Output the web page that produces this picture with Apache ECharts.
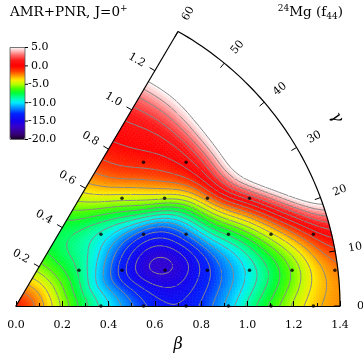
<!DOCTYPE html>
<html>
<head>
<meta charset="utf-8">
<script src="https://cdn.jsdelivr.net/npm/echarts@6/dist/echarts.min.js"></script>
<style>
  html, body { margin: 0; padding: 0; background: #fff; }
  #main { width: 363px; height: 358px; }
</style>
</head>
<body>
<div id="main"></div>
<script>
// beta / gamma grid of the energy surface
const betas = [0, 0.1, 0.2, 0.3, 0.4, 0.5, 0.6, 0.7, 0.8, 0.9, 1.0, 1.1, 1.2, 1.3, 1.4];
const gammas = [0, 7.5, 15, 22.5, 30, 37.5, 45, 52.5, 60];

// energy (MeV) along beta, one list per gamma
const eG00 = [-0.5, -2.3, -5.3, -7.8, -9.8, -11.8, -13.4, -14.0, -12.8, -10.8, -8.4, -6.4, -4.3, -2.8, -2.4];
const eG07 = [-0.5, -2.3, -5.4, -8.0, -10.4, -12.6, -14.8, -15.3, -13.8, -12.2, -10.5, -8.8, -6.9, -4.2, -2.5];
const eG15 = [-0.5, -2.4, -5.5, -8.3, -11.3, -14.5, -16.8, -16.8, -15.0, -11.8, -9.6, -6.6, -3.8, -1.0, 1.5];
const eG22 = [-0.5, -2.4, -5.6, -8.0, -10.8, -13.8, -15.9, -15.5, -12.5, -8.0, -5.0, -1.8, 2.5, 6.5, 9.5];
const eG30 = [-0.5, -2.5, -5.6, -8.0, -9.8, -12.0, -13.2, -13.0, -9.8, -5.0, 0.5, 5.0, 8.5, 11.0, 13.0];
const eG37 = [-0.5, -2.5, -5.7, -7.9, -9.0, -10.2, -9.5, -6.5, -3.5, -1.2, 0.8, 4.8, 8.0, 11.0, 13.0];
const eG45 = [-0.5, -2.6, -5.7, -7.9, -8.8, -8.6, -6.6, -3.6, -1.5, -0.3, 1.0, 4.5, 7.5, 10.5, 13.0];
const eG52 = [-0.5, -2.6, -5.8, -7.8, -8.2, -7.0, -4.2, -1.8, -0.5, 0.3, 1.2, 3.8, 6.5, 9.5, 12.0];
const eG60 = [-0.5, -2.7, -5.8, -7.6, -7.8, -5.6, -3.3, -1.5, -0.3, 0.6, 1.6, 3.8, 6.5, 9.0, 12.0];
const energy = [eG00, eG07, eG15, eG22, eG30, eG37, eG45, eG52, eG60];

// mesh points of the calculation (x = beta cos g, y = beta sin g)
const meshX = [0.272, 0.458, 0.644, 0.827, 1.009, 1.193, 1.378,
               0.367, 0.551, 0.735, 0.918, 1.102, 1.285,
               0.458, 0.642, 0.827, 1.009,
               0.551, 0.735,
               0.367, 0.551, 0.735, 0.918, 1.102, 1.285];
const meshY = [0.158, 0.158, 0.158, 0.158, 0.158, 0.158, 0.158,
               0.317, 0.317, 0.317, 0.317, 0.317, 0.317,
               0.476, 0.476, 0.476, 0.476,
               0.635, 0.635,
               0, 0, 0, 0, 0, 0];

const edgeTicks = [0.2, 0.4, 0.6, 0.8, 1.0, 1.2];
const gammaTicks = [0, 10, 20, 30, 40, 50, 60];
const colorTicks = [5, 0, -5, -10, -15, -20];
const contourLevels = [-19, -18, -17, -16, -15, -14, -13, -12, -11, -10, -9, -8, -7,
                       -6, -5, -4, -3, -2, -1, 0, 1, 2, 3, 4, 5];

const FONT = 'DejaVu Serif';
const BMAX = 1.4;
const E_MIN = -20, E_MAX = 5;

// colour map (red 0, white above 5, purple at -20)
const cmapStops = [
  [-20, [25, 0, 35]], [-18.5, [55, 0, 120]], [-16.6, [55, 0, 200]], [-15, [20, 0, 235]],
  [-13, [0, 35, 255]], [-11.6, [0, 130, 255]], [-10, [0, 235, 255]], [-8.9, [0, 255, 180]],
  [-7.3, [0, 255, 50]], [-6.2, [70, 255, 0]], [-5, [180, 255, 0]], [-3.8, [255, 235, 0]],
  [-2.5, [255, 140, 0]], [-1.4, [255, 60, 0]], [0, [255, 0, 0]], [1.5, [255, 25, 25]],
  [3, [255, 110, 110]], [4.2, [255, 200, 200]], [5, [255, 248, 248]]
];
function colorAt(v) {
  if (v >= E_MAX) return '#ffffff';
  if (v <= cmapStops[0][0]) v = cmapStops[0][0];
  for (let k = 0; k < cmapStops.length - 1; k++) {
    const a = cmapStops[k], b = cmapStops[k + 1];
    if (v <= b[0]) {
      const t = (v - a[0]) / (b[0] - a[0]);
      const c = a[1].map((x, n) => Math.round(x + (b[1][n] - x) * t));
      return 'rgb(' + c.join(',') + ')';
    }
  }
  return '#ffffff';
}
const barColors = [];
for (let v = E_MIN; v <= E_MAX; v += 0.5) barColors.push(colorAt(Math.min(v, 4.99)));

// smooth (cubic B-spline) reading of the grid between nodes
function bs(p0, p1, p2, p3, t) {
  const t2 = t * t, t3 = t2 * t, s = 1 - t;
  return (s * s * s * p0 + (3 * t3 - 6 * t2 + 4) * p1 + (-3 * t3 + 3 * t2 + 3 * t + 1) * p2 + t3 * p3) / 6;
}
function clampI(k, n) { return k < 0 ? 0 : (k > n - 1 ? n - 1 : k); }
function field(b, g) {
  const nb = betas.length, ng = gammas.length;
  const fb = (b - betas[0]) / (betas[1] - betas[0]);
  const fg = (g - gammas[0]) / (gammas[1] - gammas[0]);
  const i = Math.min(Math.floor(fb), nb - 2), j = Math.min(Math.floor(fg), ng - 2);
  const t = fb - i, u = fg - j;
  const E = (jj, ii) => energy[clampI(jj, ng)][clampI(ii, nb)];
  const col = [];
  for (let dj = -1; dj <= 2; dj++) {
    col.push(bs(E(j + dj, i - 1), E(j + dj, i), E(j + dj, i + 1), E(j + dj, i + 2), t));
  }
  return bs(col[0], col[1], col[2], col[3], u);
}

function toXY(b, g) {
  const r = g * Math.PI / 180;
  return [b * Math.cos(r), b * Math.sin(r)];
}

const cells = [];
for (let j = 0; j < gammas.length - 1; j++) {
  for (let i = 0; i < betas.length - 1; i++) {
    cells.push([i, j, (energy[j][i] + energy[j][i + 1] + energy[j + 1][i] + energy[j + 1][i + 1]) / 4]);
  }
}

function seg(p, q) {
  return 'M' + p[0].toFixed(2) + ' ' + p[1].toFixed(2) + 'L' + q[0].toFixed(2) + ' ' + q[1].toFixed(2);
}

function renderCell(params, api) {
  const i = api.value(0), j = api.value(1);
  const b0 = betas[i], b1 = betas[i + 1], g0 = gammas[j], g1 = gammas[j + 1];
  const nB = 8, nG = Math.max(2, Math.ceil(b1 * 9));
  const vals = [], pts = [];
  for (let a = 0; a <= nB; a++) {
    const b = b0 + (b1 - b0) * a / nB;
    vals.push([]); pts.push([]);
    for (let c = 0; c <= nG; c++) {
      const g = g0 + (g1 - g0) * c / nG;
      vals[a].push(field(b, g));
      pts[a].push(api.coord(toXY(b, g)));
    }
  }
  const children = [];
  let d = '';
  for (let a = 0; a < nB; a++) {
    for (let c = 0; c < nG; c++) {
      const v = [vals[a][c], vals[a + 1][c], vals[a + 1][c + 1], vals[a][c + 1]];
      const p = [pts[a][c], pts[a + 1][c], pts[a + 1][c + 1], pts[a][c + 1]];
      const avg = (v[0] + v[1] + v[2] + v[3]) / 4;
      const col = colorAt(avg);
      children.push({
        type: 'polygon', silent: true,
        shape: { points: p },
        style: { fill: col, stroke: col, lineWidth: 0.6 }
      });
      const lo = Math.min(v[0], v[1], v[2], v[3]), hi = Math.max(v[0], v[1], v[2], v[3]);
      for (const L of contourLevels) {
        if (L <= lo || L > hi) continue;
        const cross = [];
        for (let e = 0; e < 4; e++) {
          const v1 = v[e], v2 = v[(e + 1) % 4];
          if ((v1 < L) !== (v2 < L)) {
            const t = (L - v1) / (v2 - v1);
            const p1 = p[e], p2 = p[(e + 1) % 4];
            cross.push([p1[0] + (p2[0] - p1[0]) * t, p1[1] + (p2[1] - p1[1]) * t]);
          }
        }
        if (cross.length === 2) {
          d += seg(cross[0], cross[1]);
        } else if (cross.length === 4) {
          if ((avg >= L) === (v[0] >= L)) {
            d += seg(cross[0], cross[1]) + seg(cross[2], cross[3]);
          } else {
            d += seg(cross[3], cross[0]) + seg(cross[1], cross[2]);
          }
        }
      }
    }
  }
  if (d) {
    children.push({
      type: 'path', silent: true,
      shape: { pathData: d },
      style: { fill: null, stroke: '#888888', lineWidth: 1 }
    });
  }
  return { type: 'group', children: children };
}

// outer arc and 60 degree edge
function renderFrame(params, api) {
  const arc = [];
  for (let g = 0; g <= 60; g += 1) arc.push(api.coord(toXY(BMAX, g)));
  const o = api.coord([0, 0]);
  return {
    type: 'group',
    children: [
      { type: 'polyline', shape: { points: arc }, style: { fill: null, stroke: '#000', lineWidth: 1.2 } },
      { type: 'line', shape: { x1: o[0], y1: o[1], x2: arc[arc.length - 1][0], y2: arc[arc.length - 1][1] },
        style: { stroke: '#000', lineWidth: 1.2 } }
    ]
  };
}

function centredText(str, x, y, rot, size, italic) {
  return {
    type: 'text', x: x, y: y, rotation: rot,
    style: { text: str, fontFamily: FONT, fontSize: size, fontStyle: italic ? 'italic' : 'normal',
      fill: '#000', align: 'center', verticalAlign: 'middle',
      textAlign: 'center', textVerticalAlign: 'middle' }
  };
}

function renderGammaTick(params, api) {
  const g = api.value(0);
  const r = g * Math.PI / 180;
  const p = api.coord(toXY(BMAX, g));
  const dx = Math.cos(r), dy = -Math.sin(r);
  return {
    type: 'group',
    children: [
      { type: 'line', shape: { x1: p[0], y1: p[1], x2: p[0] - 6 * dx, y2: p[1] - 6 * dy },
        style: { stroke: '#000', lineWidth: 1 } },
      centredText(String(g), p[0] + 20.5 * dx, p[1] + 20.5 * dy, r, 11, false)
    ]
  };
}

function renderEdgeTick(params, api) {
  const b = api.value(0);
  const p = api.coord(toXY(b, 60));
  const nx = Math.cos(150 * Math.PI / 180), ny = -Math.sin(150 * Math.PI / 180);
  return {
    type: 'group',
    children: [
      { type: 'line', shape: { x1: p[0], y1: p[1], x2: p[0] + 6 * nx, y2: p[1] + 6 * ny },
        style: { stroke: '#000', lineWidth: 1 } },
      centredText(b.toFixed(1), p[0] + 21 * nx, p[1] + 21 * ny, -Math.PI / 6, 11, false)
    ]
  };
}

function renderGammaName(params, api) {
  const p = api.coord(toXY(1.617, 31));
  return centredText('γ', p[0], p[1], (31 - 90) * Math.PI / 180, 16, true);
}

// colour bar ticks and labels
const CB_TOP = 47.5, CB_H = 92, CB_LEFT = 10, CB_W = 15;
const cbGraphics = [
  { type: 'rect', shape: { x: CB_LEFT, y: CB_TOP, width: CB_W, height: CB_H },
    style: { fill: null, stroke: '#555', lineWidth: 0.8 }, z: 20 }
];
colorTicks.forEach(v => {
  const y = CB_TOP + (E_MAX - v) / (E_MAX - E_MIN) * CB_H;
  cbGraphics.push({ type: 'line', shape: { x1: CB_LEFT + CB_W, y1: y, x2: CB_LEFT + CB_W + 3, y2: y },
    style: { stroke: '#000', lineWidth: 1 }, z: 20 });
  cbGraphics.push({ type: 'text', x: v < 0 ? 28 : 31, y: y,
    style: { text: v.toFixed(1), fontFamily: FONT, fontSize: 11, fill: '#000',
      align: 'left', verticalAlign: 'middle' }, z: 20 });
});

const chart = echarts.init(document.getElementById('main'));
chart.setOption({
  animation: false,
  backgroundColor: '#fff',
  grid: { left: 16, right: 23, top: 11.6, bottom: 45.5 },
  xAxis: {
    type: 'value', min: 0, max: 1.4, interval: 0.2, z: 10,
    name: 'β', nameLocation: 'middle', nameGap: 31,
    nameTextStyle: { fontFamily: FONT, fontStyle: 'italic', fontSize: 16, color: '#000' },
    axisLine: { lineStyle: { color: '#000', width: 1.2 } },
    axisTick: { inside: true, length: 5, lineStyle: { color: '#000' } },
    minorTick: { show: true, splitNumber: 2, length: 3, lineStyle: { color: '#000' } },
    axisLabel: { formatter: v => v.toFixed(1), fontFamily: FONT, fontSize: 11, color: '#000', margin: 14 },
    splitLine: { show: false }
  },
  yAxis: { type: 'value', min: 0, max: 1.3, show: false },
  visualMap: {
    type: 'continuous', min: E_MIN, max: E_MAX, seriesIndex: 0, dimension: 2,
    left: CB_LEFT, top: CB_TOP, itemWidth: CB_W, itemHeight: CB_H, padding: 0,
    calculable: false, hoverLink: false, inRange: { color: barColors }
  },
  graphic: [
    { type: 'text', left: 10, top: 4,
      style: { rich: {
          m: { fontFamily: FONT, fontSize: 13.5, lineHeight: 17, verticalAlign: 'middle', fill: '#000' },
          s: { fontFamily: FONT, fontSize: 9, lineHeight: 17, verticalAlign: 'top', fill: '#000' }
        }, text: '{m|AMR+PNR, J=0}{s|+}' } },
    { type: 'text', right: 20, top: 4,
      style: { rich: {
          m: { fontFamily: FONT, fontSize: 13.5, lineHeight: 17, verticalAlign: 'middle', fill: '#000' },
          s: { fontFamily: FONT, fontSize: 9, lineHeight: 17, verticalAlign: 'top', fill: '#000' },
          b: { fontFamily: FONT, fontSize: 9, lineHeight: 17, verticalAlign: 'bottom', fill: '#000' }
        }, text: '{s|24}{m|Mg (f}{b|44}{m|)}' } }
  ].concat(cbGraphics),
  series: [
    { type: 'custom', z: 1, silent: true, clip: false, data: cells, renderItem: renderCell },
    { type: 'scatter', z: 5, silent: true, symbolSize: 3.5, itemStyle: { color: '#000' },
      data: meshX.map((x, k) => [x, meshY[k]]) },
    { type: 'custom', z: 6, silent: true, clip: false, data: [[0]], renderItem: renderFrame },
    { type: 'custom', z: 6, silent: true, clip: false, data: gammaTicks.map(g => [g]), renderItem: renderGammaTick },
    { type: 'custom', z: 6, silent: true, clip: false, data: edgeTicks.map(b => [b]), renderItem: renderEdgeTick },
    { type: 'custom', z: 6, silent: true, clip: false, data: [[0]], renderItem: renderGammaName }
  ]
});
</script>
</body>
</html>
